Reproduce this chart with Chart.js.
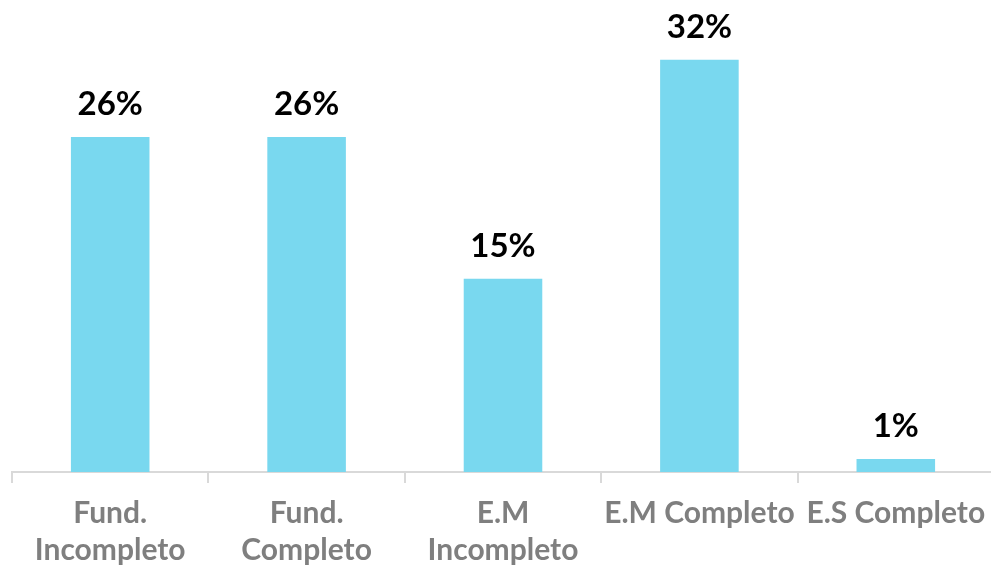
<!DOCTYPE html>
<html>
<head>
<meta charset="utf-8">
<script src="https://cdn.jsdelivr.net/npm/chart.js@4"></script>
<style>
html,body{margin:0;padding:0;background:#fff;overflow:hidden}
#wrap{width:1000px;height:569px}
</style>
</head>
<body>
<div id="wrap"><canvas id="c" width="1000" height="569"></canvas></div>
<script>
const categories=[['Fund.','Incompleto'],['Fund.','Completo'],['E.M','Incompleto'],'E.M Completo','E.S Completo']
const values=[26,26,15,32,1]
const yMax=35

const FONT='Lato, "Open Sans", sans-serif'

// value labels above each bar
const barLabels={id:'barLabels',afterDatasetsDraw(chart){
  const ctx=chart.ctx
  const meta=chart.getDatasetMeta(0)
  ctx.save()
  ctx.font='bold 33px '+FONT
  ctx.fillStyle='#000'
  ctx.textAlign='center'
  ctx.textBaseline='alphabetic'
  meta.data.forEach((bar,i)=>{ctx.fillText(values[i]+'%',bar.x,bar.y-22)})
  ctx.restore()
}}

new Chart(document.getElementById('c').getContext('2d'),{
  type:'bar',
  data:{labels:categories,datasets:[{data:values,backgroundColor:'#79D8EF',borderWidth:0,categoryPercentage:0.8,barPercentage:0.5}]},
  options:{
    responsive:false,animation:false,
    layout:{padding:{left:12,right:6,top:21,bottom:0}},
    plugins:{legend:{display:false},tooltip:{enabled:false}},
    scales:{
      y:{display:false,min:0,max:yMax},
      x:{
        afterFit:(s)=>{s.height=97},
        border:{display:true,color:'#d9d9d9',width:2},
        grid:{offset:true,drawOnChartArea:false,drawTicks:true,tickLength:11,color:'#d9d9d9',lineWidth:2},
        ticks:{color:'#7f7f7f',font:{family:FONT,size:30,weight:'bold',lineHeight:1.24},padding:12,maxRotation:0,autoSkip:false}
      }
    }
  },
  plugins:[barLabels]
})
</script>
</body>
</html>
